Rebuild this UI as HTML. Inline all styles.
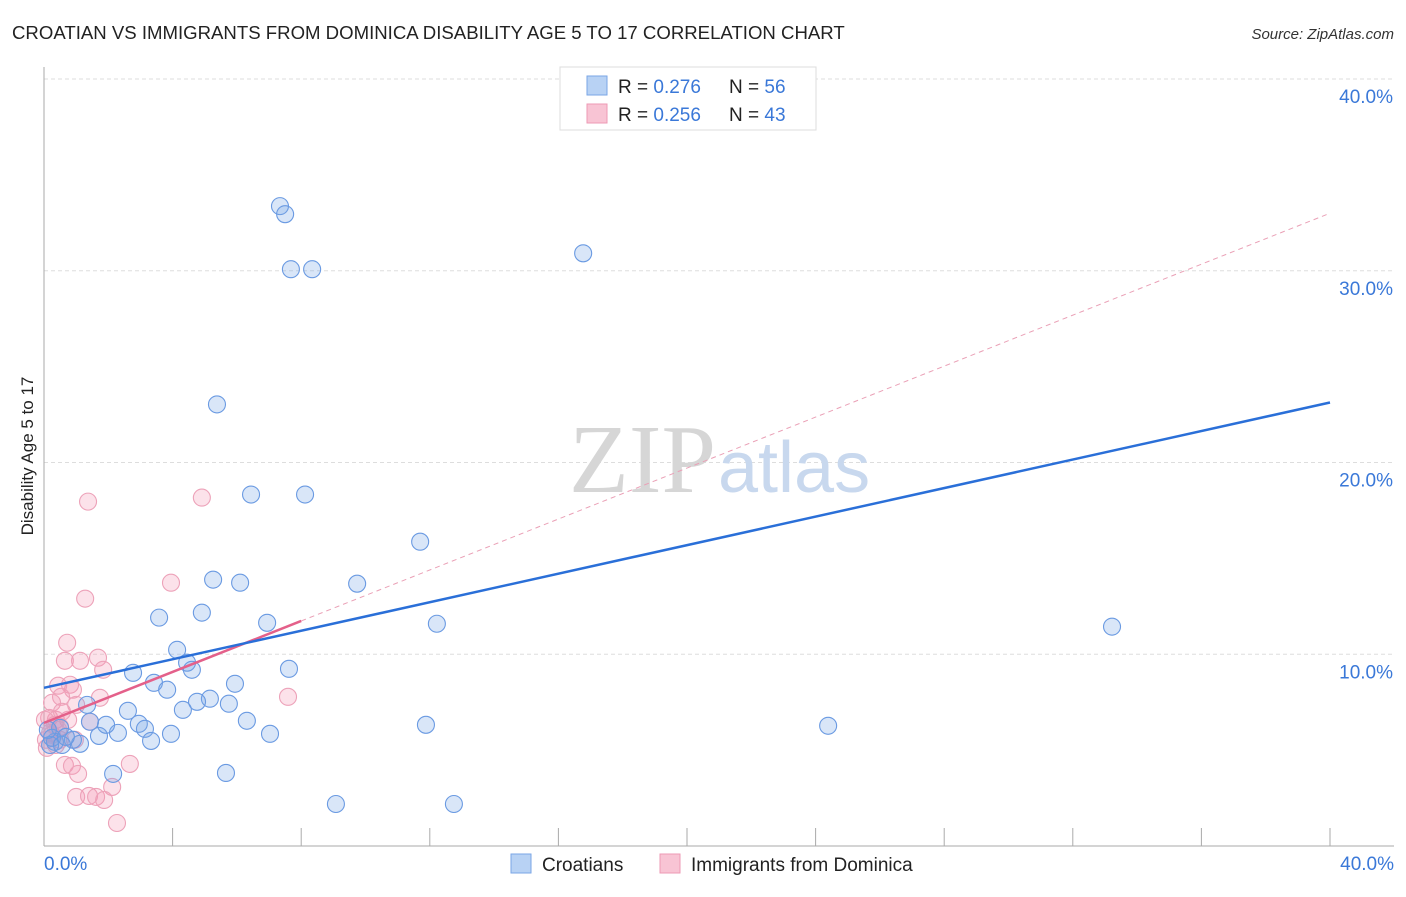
<!DOCTYPE html>
<html><head><meta charset="utf-8"><style>
body{margin:0;background:#fff;font-family:"Liberation Sans",sans-serif;}
</style></head><body>
<svg id="chart" width="1406" height="892" font-family="Liberation Sans, sans-serif" xmlns="http://www.w3.org/2000/svg">
<text x="12" y="39" font-size="18.6" fill="#222">CROATIAN VS IMMIGRANTS FROM DOMINICA DISABILITY AGE 5 TO 17 CORRELATION CHART</text>
<text x="1394" y="39" font-size="15" font-style="italic" fill="#333" text-anchor="end">Source: ZipAtlas.com</text>
<text x="33" y="456" font-size="17" fill="#222" text-anchor="middle" transform="rotate(-90 33 456)">Disability Age 5 to 17</text>
<g id="grid"></g>
<text x="716" y="492" font-size="98" fill="#d6d6d6" text-anchor="end" style="font-family:'Liberation Serif',serif">ZIP</text>
<text x="718" y="492" font-size="72" fill="#c8d8ee">atlas</text>
<g id="marks"></g>
<g>
<rect x="560" y="67" width="256" height="63" fill="#fff" stroke="#ddd"/>
<rect x="587" y="76" width="20" height="19" fill="#b8d2f4" stroke="#7aa6e6"/>
<rect x="587" y="104" width="20" height="19" fill="#f8c4d4" stroke="#ee9ab4"/>
<text x="618" y="93" font-size="19" fill="#222">R = <tspan fill="#3a78d8">0.276</tspan></text>
<text x="729" y="93" font-size="19" fill="#222">N = <tspan fill="#3a78d8">56</tspan></text>
<text x="618" y="121" font-size="19" fill="#222">R = <tspan fill="#3a78d8">0.256</tspan></text>
<text x="729" y="121" font-size="19" fill="#222">N = <tspan fill="#3a78d8">43</tspan></text>
</g>
<g>
<rect x="511" y="854" width="20" height="19" fill="#b8d2f4" stroke="#7aa6e6"/>
<text x="542" y="871" font-size="19" fill="#222">Croatians</text>
<rect x="660" y="854" width="20" height="19" fill="#f8c4d4" stroke="#ee9ab4"/>
<text x="691" y="871" font-size="19" fill="#222">Immigrants from Dominica</text>
</g>
</svg>
<script>
const yTicks=[10,20,30,40];
const yTickLabels=["10.0%","20.0%","30.0%","40.0%"];
const xEndLabels=["0.0%","40.0%"];
const blueX=[7.34,7.50,7.68,8.34,16.77,5.38,6.44,8.12,11.70,9.74,5.26,6.10,3.58,4.91,6.94,12.22,33.22,4.14,4.45,4.60,7.62,2.77,3.42,3.83,5.94,5.16,4.76,4.32,5.75,2.61,1.34,6.31,2.95,3.14,3.95,7.03,11.88,24.39,1.71,2.30,1.93,1.43,3.33,1.12,0.50,0.34,0.19,0.90,5.66,2.15,9.08,12.75,0.25,0.56,0.12,0.68];
const blueY=[33.37,32.95,30.08,30.08,30.91,23.03,18.33,18.33,15.87,13.68,13.89,13.73,11.91,12.17,11.64,11.59,11.44,10.23,9.56,9.19,9.24,9.03,8.51,8.15,8.46,7.68,7.52,7.10,7.42,7.05,7.36,6.53,6.37,6.11,5.85,5.85,6.32,6.27,5.74,5.90,6.32,6.48,5.48,5.33,6.16,5.43,5.27,5.54,3.81,3.76,2.19,2.19,5.64,5.27,6.06,5.69];
const pinkX=[1.37,4.91,3.95,1.28,0.72,0.65,1.12,1.68,1.84,0.81,0.90,0.44,0.53,1.74,1.00,7.59,0.25,0.16,0.37,0.75,1.43,0.50,0.19,0.96,0.50,0.09,0.65,0.87,1.06,2.67,2.12,1.00,1.40,1.62,1.87,2.27,0.37,0.25,0.44,0.03,0.56,0.06,0.34];
const pinkY=[17.96,18.17,13.73,12.90,10.60,9.66,9.66,9.82,9.19,8.41,8.15,8.36,7.78,7.73,7.36,7.78,7.47,6.68,6.58,6.58,6.48,6.21,5.90,5.54,5.54,5.12,4.23,4.18,3.76,4.28,3.08,2.56,2.61,2.56,2.40,1.20,5.27,5.80,6.06,6.58,7.00,5.54,6.32];
const blueTrend=[8.25,23.13];
const pinkTrend=[6.42,33.0];
const pinkSolidEnd=8.0;

const X0=44,X1=1330,Y0=846,Y40=79;
const sx=v=>X0+(X1-X0)*v/40;
const sy=v=>Y0-(Y0-Y40)*v/40;
const NS="http://www.w3.org/2000/svg";
function mk(tag,attrs,parent){const e=document.createElementNS(NS,tag);for(const k in attrs)e.setAttribute(k,attrs[k]);parent.appendChild(e);return e;}
const grid=document.getElementById('grid'),marks=document.getElementById('marks'),svg=document.getElementById('chart');
yTicks.forEach((t,i)=>{
 const l=mk('line',{x1:44,x2:1394,y1:sy(t),y2:sy(t),stroke:'#ddd','stroke-dasharray':'4,3'},grid);
 
 
 const tx=mk('text',{x:1393,y:sy(t)+24,'font-size':19,fill:'#3a78d8','text-anchor':'end'},svg);
 tx.textContent=yTickLabels[i];
 
 
});
const ax=mk('line',{x1:44,x2:44,y1:67,y2:846,stroke:'#aaa'},grid);


const bx=mk('line',{x1:44,x2:1394,y1:846,y2:846,stroke:'#aaa'},grid);


for(let i=1;i<=10;i++){
 const t=mk('line',{x1:sx(i*4),x2:sx(i*4),y1:828,y2:846,stroke:'#aaa'},grid);
 
 
}
[[0,'start',44],[40,'end',1394]].forEach((a,i)=>{
 const t=mk('text',{x:a[2],y:870,'font-size':19,fill:'#3a78d8','text-anchor':a[1]},svg);
 t.textContent=xEndLabels[i];
 
 
});
function pts(xs,ys,fill,stroke,name){
 xs.forEach((x,i)=>{
  const c=mk('circle',{cx:sx(x),cy:sy(ys[i]),r:8.5,fill:fill,stroke:stroke,'stroke-width':1.1},marks);
  
  
 });
}
pts(pinkX,pinkY,'rgba(244,150,178,0.28)','#eda2b9','dominica-point');
pts(blueX,blueY,'rgba(120,165,230,0.28)','#6a9ae2','croatian-point');
const pd=mk('line',{x1:sx(pinkSolidEnd),y1:sy(pinkTrend[0]+(pinkTrend[1]-pinkTrend[0])*pinkSolidEnd/40),x2:sx(40),y2:sy(pinkTrend[1]),stroke:'#eaa0b6','stroke-width':1,'stroke-dasharray':'5,4'},marks);


const ps=mk('line',{x1:sx(0),y1:sy(pinkTrend[0]),x2:sx(pinkSolidEnd),y2:sy(pinkTrend[0]+(pinkTrend[1]-pinkTrend[0])*pinkSolidEnd/40),stroke:'#e4608a','stroke-width':2.5},marks);


const bl=mk('line',{x1:sx(0),y1:sy(blueTrend[0]),x2:sx(40),y2:sy(blueTrend[1]),stroke:'#2a6fd8','stroke-width':2.5},marks);


</script>
</body></html>
